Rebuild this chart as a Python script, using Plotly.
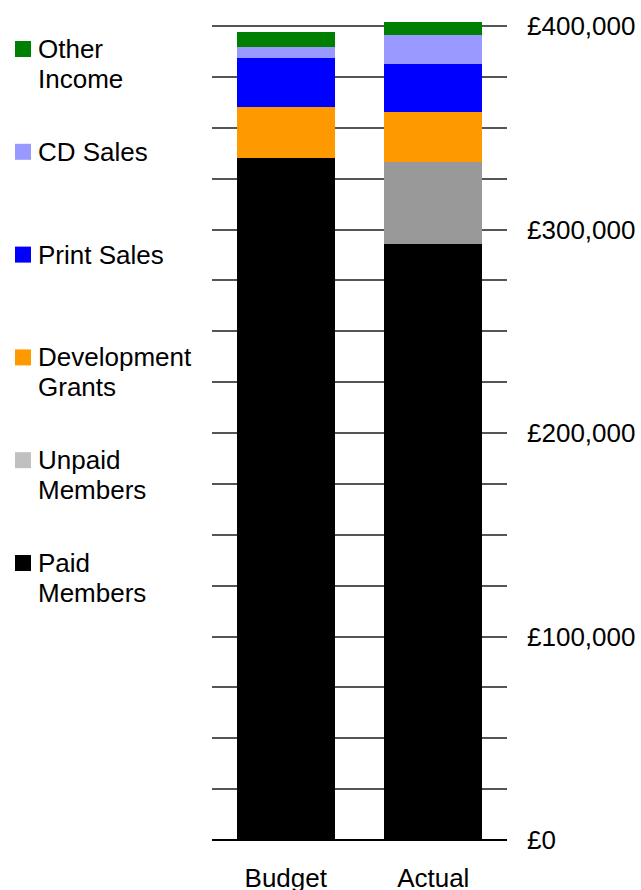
import plotly.graph_objects as go

# Income by source, budget vs actual (GBP)
categories = ["Budget", "Actual"]
series_names = ["Paid Members", "Unpaid Members", "Development Grants",
                "Print Sales", "CD Sales", "Other Income"]
paid_members = [335000, 293000]
unpaid_members = [0, 40000]
development_grants = [25000, 25000]
print_sales = [24500, 23500]
cd_sales = [5000, 14000]
other_income = [7500, 6500]

series_values = [paid_members, unpaid_members, development_grants,
                 print_sales, cd_sales, other_income]
bar_colors = ["#000000", "#999999", "#ff9900", "#0000ff", "#9999ff", "#008000"]
legend_colors = ["#000000", "#c0c0c0", "#ff9900", "#0000ff", "#9999ff", "#008000"]
legend_lines = [["Paid", "Members"], ["Unpaid", "Members"],
                ["Development", "Grants"], ["Print Sales"], ["CD Sales"],
                ["Other", "Income"]]

tick_values = [0, 100000, 200000, 300000, 400000]
tick_labels = ["£0", "£100,000", "£200,000", "£300,000", "£400,000"]

W, H = 641, 890
ML, MR, MT, MB = 212, 134, 0, 50
PW, PH = W - ML - MR, H - MT - MB
FONT = "Liberation Sans"
FS = 26

fig = go.Figure()
for name, vals, col in zip(series_names, series_values, bar_colors):
    fig.add_trace(go.Bar(x=categories, y=vals, name=name, marker_color=col,
                         marker_line_width=0, showlegend=False))

# gridlines every £25,000, labels every £100,000
grid_vals = list(range(0, 400001, 25000))
grid_text = [tick_labels[tick_values.index(v)] if v in tick_values else ""
             for v in grid_vals]

fig.update_layout(
    width=W, height=H,
    margin=dict(l=ML, r=MR, t=MT, b=MB, pad=0),
    barmode="stack", bargap=0.335,
    plot_bgcolor="white", paper_bgcolor="white",
    font=dict(family=FONT, size=FS, color="#000000"),
    xaxis=dict(showgrid=False, showline=False, ticks="", zeroline=False,
               automargin=False, ticklabelstandoff=20, tickfont=dict(size=FS)),
    yaxis=dict(side="right", range=[0, 412800], tickvals=grid_vals,
               ticktext=grid_text, showgrid=True, gridcolor="#555555",
               gridwidth=1.5, zeroline=True, zerolinecolor="#000000",
               zerolinewidth=1.5, showline=False, ticks="", automargin=False,
               ticklabelstandoff=19, tickfont=dict(size=FS)),
)

# legend drawn as swatches with text, top entry first
def px_x(x):
    return (x - ML) / PW

def px_y(y):
    return (H - MB - y) / PH

top_center, step = 49, 102.8
for i, idx in enumerate(reversed(range(len(series_names)))):
    cy = top_center + i * step
    fig.add_shape(type="rect", xref="paper", yref="paper",
                  x0=px_x(15), x1=px_x(31), y0=px_y(cy + 8), y1=px_y(cy - 8),
                  fillcolor=legend_colors[idx], line_width=0)
    for j, line in enumerate(legend_lines[idx]):
        fig.add_annotation(xref="paper", yref="paper", x=px_x(36),
                           y=px_y(cy + j * 29.5), text=line, showarrow=False,
                           xanchor="left", yanchor="middle",
                           font=dict(size=FS, family=FONT))

fig.write_html("out.html")
